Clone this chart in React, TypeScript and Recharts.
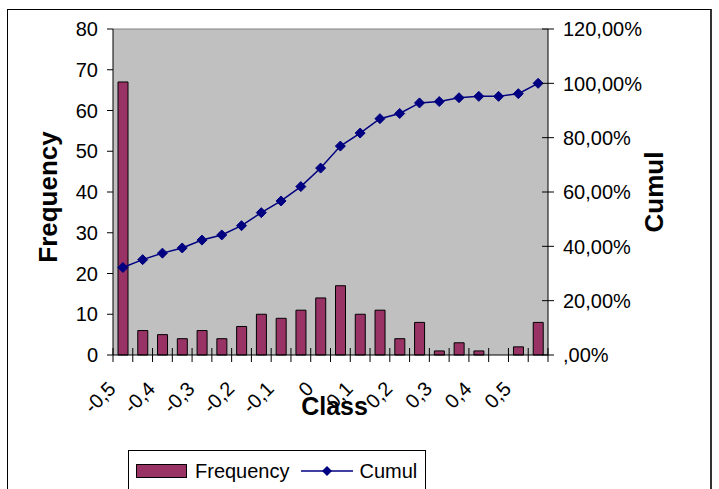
import React from "react";
import {
  ComposedChart,
  Bar,
  Line,
  XAxis,
  YAxis,
  CartesianGrid,
  ReferenceLine,
  Legend,
} from "recharts";

const classes = [
  "-0,5", "-0,45", "-0,4", "-0,35", "-0,3", "-0,25", "-0,2", "-0,15", "-0,1", "-0,05", "0",
  "0,05", "0,1", "0,15", "0,2", "0,25", "0,3", "0,35", "0,4", "0,45", "0,5", "0,55",
];
const frequency = [67, 6, 5, 4, 6, 4, 7, 10, 9, 11, 14, 17, 10, 11, 4, 8, 1, 3, 1, 0, 2, 8];
const cumul = [
  32.2, 35.1, 37.5, 39.4, 42.3, 44.2, 47.6, 52.4, 56.7, 62.0, 68.8,
  76.9, 81.7, 87.0, 88.9, 92.8, 93.3, 94.7, 95.2, 95.2, 96.2, 100,
];
const freqTicks = [0, 10, 20, 30, 40, 50, 60, 70, 80];
const cumulTicks = [0, 20, 40, 60, 80, 100, 120];

const data = classes.map((c, i) => ({
  cls: c,
  Frequency: frequency[i],
  Cumul: cumul[i],
}));

const FONT = '"Liberation Sans", Arial, Helvetica, sans-serif';
const BAR_COLOR = "#993366";
const LINE_COLOR = "#000080";
const PLOT_LEFT = 113;
const PLOT_RIGHT = 548;
const BAND = (PLOT_RIGHT - PLOT_LEFT) / classes.length;

const fmtPct = (v: number) => (v === 0 ? ",00%" : `${v},00%`);

function XTick(props: any) {
  const { x, y, payload, index } = props;
  const half = BAND / 2;
  const lx = x - 6;
  const ly = y + 35;
  return (
    <g>
      <line x1={x - half} x2={x - half} y1={y - 7} y2={y + 7} stroke="#000" />
      {index === classes.length - 1 && (
        <line x1={x + half} x2={x + half} y1={y - 7} y2={y + 7} stroke="#000" />
      )}
      {index % 2 === 0 && (
        <text
          x={lx}
          y={ly}
          textAnchor="end"
          transform={`rotate(-45 ${lx} ${ly})`}
          fontSize={20}
          fontFamily={FONT}
          fill="#000"
        >
          {payload.value}
        </text>
      )}
    </g>
  );
}

function LeftTick(props: any) {
  const { x, y, payload } = props;
  return (
    <g>
      <line x1={x + 9} x2={x + 15} y1={y} y2={y} stroke="#000" />
      <text x={x} y={y} dy="0.36em" textAnchor="end" fontSize={20} fontFamily={FONT} fill="#000">
        {payload.value}
      </text>
    </g>
  );
}

function RightTick(props: any) {
  const { x, y, payload } = props;
  return (
    <g>
      <line x1={x - 21} x2={x - 9} y1={y} y2={y} stroke="#000" />
      <text x={x} y={y} dy="0.36em" textAnchor="start" fontSize={20} fontFamily={FONT} fill="#000">
        {fmtPct(payload.value)}
      </text>
    </g>
  );
}

function Diamond(props: any) {
  const { cx, cy, index } = props;
  if (cx == null || cy == null) return null;
  const r = 5;
  return (
    <polygon
      key={`d-${index}`}
      points={`${cx},${cy - r} ${cx + r},${cy} ${cx},${cy + r} ${cx - r},${cy}`}
      fill={LINE_COLOR}
      stroke={LINE_COLOR}
    />
  );
}

function LegendBox() {
  return (
    <div
      style={{
        boxSizing: "border-box",
        width: 298,
        height: 45,
        border: "1px solid #000",
        background: "#fff",
        fontFamily: FONT,
        fontSize: 20,
        color: "#000",
      }}
    >
      <div style={{ display: "flex", alignItems: "center", height: 40, paddingLeft: 7 }}>
        <div
          style={{
            boxSizing: "border-box",
            width: 51,
            height: 14,
            background: BAR_COLOR,
            border: "1px solid #000",
          }}
        />
        <span style={{ marginLeft: 8 }}>Frequency</span>
        <svg width={52} height={14} style={{ marginLeft: 11 }}>
          <line x1={0} x2={52} y1={7} y2={7} stroke={LINE_COLOR} strokeWidth={1.5} />
          <polygon points="26,2 31,7 26,12 21,7" fill={LINE_COLOR} />
        </svg>
        <span style={{ marginLeft: 7 }}>Cumul</span>
      </div>
    </div>
  );
}

export default function App() {
  return (
    <div
      style={{
        position: "absolute",
        left: 0,
        top: 0,
        width: 719,
        height: 489,
        overflow: "hidden",
        background: "#fff",
        fontFamily: FONT,
      }}
    >
      <div
        style={{
          position: "absolute",
          left: 7,
          top: 9,
          width: 702,
          height: 600,
          borderLeft: "1px solid #000",
          borderTop: "1px solid #000",
          borderRight: "2px solid #333",
        }}
      />
      <div style={{ position: "absolute", left: 0, top: 0 }}>
        <ComposedChart
          width={719}
          height={500}
          data={data}
          margin={{ top: 29, right: 31, bottom: 5, left: 13 }}
        >
          <CartesianGrid
            yAxisId="left"
            fill="#C0C0C0"
            stroke="none"
            horizontal={false}
            vertical={false}
          />
          <XAxis
            dataKey="cls"
            interval={0}
            height={95}
            tickSize={0}
            tickMargin={0}
            tickLine={false}
            axisLine={{ stroke: "#000" }}
            tick={<XTick />}
            label={{
              value: "Class",
              position: "insideTop",
              offset: 42,
              dx: 4,
              style: { fontSize: 25, fontWeight: "bold", fill: "#000", fontFamily: FONT },
            }}
          />
          <YAxis
            yAxisId="left"
            width={100}
            domain={[0, 80]}
            ticks={freqTicks}
            tickSize={0}
            tickMargin={15}
            tickLine={false}
            axisLine={{ stroke: "#000" }}
            tick={<LeftTick />}
            label={{
              value: "Frequency",
              angle: -90,
              position: "insideLeft",
              offset: 35,
              dy: 5,
              style: {
                textAnchor: "middle",
                fontSize: 26,
                fontWeight: "bold",
                fill: "#000",
                fontFamily: FONT,
              },
            }}
          />
          <YAxis
            yAxisId="right"
            orientation="right"
            width={140}
            domain={[0, 120]}
            ticks={cumulTicks}
            tickSize={0}
            tickMargin={15}
            tickLine={false}
            axisLine={{ stroke: "#000" }}
            tick={<RightTick />}
            label={{
              value: "Cumul",
              angle: -90,
              position: "insideRight",
              offset: 34,
              style: {
                textAnchor: "middle",
                fontSize: 26,
                fontWeight: "bold",
                fill: "#000",
                fontFamily: FONT,
              },
            }}
          />
          <ReferenceLine yAxisId="left" y={80} stroke="#808080" />
          <Bar
            yAxisId="left"
            dataKey="Frequency"
            barSize={10}
            fill={BAR_COLOR}
            stroke="#000"
            strokeWidth={1}
            isAnimationActive={false}
          />
          <Line
            yAxisId="right"
            dataKey="Cumul"
            stroke={LINE_COLOR}
            strokeWidth={1.5}
            dot={<Diamond />}
            activeDot={false}
            isAnimationActive={false}
          />
          <Legend
            verticalAlign="bottom"
            align="left"
            wrapperStyle={{ left: 128, width: 298 }}
            content={() => <LegendBox />}
          />
        </ComposedChart>
      </div>
    </div>
  );
}
